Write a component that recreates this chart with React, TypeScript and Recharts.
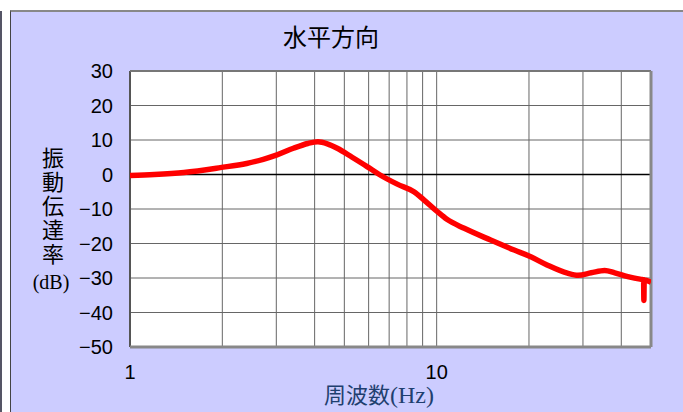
import React from 'react';
import { LineChart, Line, XAxis, YAxis, CartesianGrid, ReferenceLine } from 'recharts';

// frequency (Hz) vs transmissibility (dB)
const freqs = [1, 1.2, 1.5, 1.97, 2.4, 2.72, 3.0, 3.41, 3.8, 4.1, 4.4, 4.74, 5.3, 5.93, 6.5, 7.44, 8.43, 9.1, 10.06, 10.8, 12.3, 15.0, 17.9, 20.0, 22.9, 26.7, 28.9, 31.9, 35.3, 38.1, 42.0, 46.5, 47.3, 47.4, 47.5, 50];
const gains = [-0.3, 0.0, 0.6, 2.0, 3.2, 4.4, 5.6, 7.6, 9.0, 9.5, 8.9, 7.6, 5.0, 2.3, 0.0, -2.8, -5.0, -7.4, -10.8, -13.0, -15.6, -19.0, -21.9, -23.6, -26.2, -28.6, -29.2, -28.5, -27.8, -28.5, -29.6, -30.4, -30.5, -36.5, -30.6, -31.2];

const yTicks = [-50, -40, -30, -20, -10, 0, 10, 20, 30];
const xTicks = [1, 10];
const xGrid = [2, 3, 4, 5, 6, 7, 8, 9, 10, 20, 30, 40];

const title = '水平方向';
const yLabel = '振動伝達率';
const yLabelUnit = '(dB)';
const xLabel = '周波数';
const xLabelUnit = '(Hz)';

const data = freqs.map((f, i) => ({ f, db: gains[i] }));

const tickFont = '"Liberation Sans", Arial, sans-serif';
const cjkFont = '"Noto Sans CJK JP", sans-serif';
const serifFont = '"Liberation Serif", serif';

const YTick = (props: any) => {
    const { y, payload } = props;
    return (
        <text x={113} y={y} dy={7} textAnchor="end" fontFamily={tickFont} fontSize={20} fill="#000">
            {payload.value < 0 ? '\u2212' + Math.abs(payload.value) : payload.value}
        </text>
    );
};

const XTick = (props: any) => {
    const { x, payload } = props;
    return (
        <text x={x} y={379} textAnchor="middle" fontFamily={tickFont} fontSize={20} fill="#000">
            {payload.value}
        </text>
    );
};

export default function App() {
    return (
        <div style={{ position: 'absolute', left: 0, top: 0, width: 683, height: 412, background: '#fff', overflow: 'hidden' }}>
            <div style={{ position: 'absolute', left: 0, top: 11, width: 2, height: 401, background: '#555566' }} />
            <div style={{ position: 'absolute', left: 10, top: 10, width: 673, height: 402, background: '#ccccff', borderLeft: '1px solid #444', borderTop: '2px solid #888', boxSizing: 'border-box' }} />
            <div style={{ position: 'absolute', left: 0, top: 0 }}>
                <LineChart width={683} height={412} data={data} margin={{ top: 71, right: 32, bottom: 0, left: 10 }}>
                    <CartesianGrid vertical={false} fill="#fff" stroke="#666" strokeOpacity={1} />
                    {xGrid.map(v => (
                        <ReferenceLine key={v} x={v} stroke="#666" strokeWidth={1} />
                    ))}
                    <ReferenceLine y={0} stroke="#000" strokeWidth={1.5} />
                    <ReferenceLine x={1} stroke="#555" strokeWidth={2} />
                    <ReferenceLine y={30} stroke="#777" strokeWidth={2} />
                    <ReferenceLine x={50} stroke="#888" strokeWidth={3} />
                    <ReferenceLine y={-50} stroke="#888" strokeWidth={3} />
                    <XAxis dataKey="f" type="number" scale="log" domain={[1, 50]} ticks={xTicks} allowDataOverflow
                        axisLine={false} tickLine={false} height={65} tick={<XTick />} />
                    <YAxis type="number" domain={[-50, 30]} ticks={yTicks} axisLine={false} tickLine={false}
                        width={120} tick={<YTick />} />
                    <Line type="monotone" dataKey="db" stroke="#ff0000" strokeWidth={5.5} dot={false} isAnimationActive={false} />
                    <text x={331} y={46} textAnchor="middle" fontFamily={cjkFont} fontSize={24} fill="#000">{title}</text>
                    <text x={53} y={147} fontFamily={cjkFont} fontSize={22} letterSpacing={2} fill="#000"
                        style={{ writingMode: 'vertical-rl', textOrientation: 'upright' }}>{yLabel}</text>
                    <text x={51} y={289} textAnchor="middle" fontFamily={serifFont} fontSize={20} fill="#000">{yLabelUnit}</text>
                    <text x={379} y={403} textAnchor="middle" fill="#1f3f6f">
                        <tspan fontFamily={cjkFont} fontSize={22}>{xLabel}</tspan>
                        <tspan fontFamily={serifFont} fontSize={24}>{xLabelUnit}</tspan>
                    </text>
                </LineChart>
            </div>
        </div>
    );
}
